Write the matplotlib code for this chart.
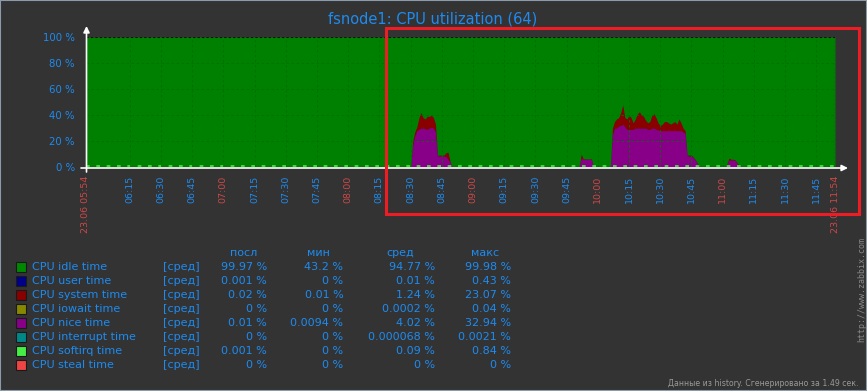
import numpy as np
import matplotlib
matplotlib.use("Agg")
from matplotlib import pyplot as plt
from matplotlib.patches import Rectangle

# sample times, minutes after 23.06 05:54
minutes = ([0] + list(range(156, 177)) + list(range(237, 245))
           + list(range(252, 296)) + list(range(307, 316)) + [360])

# CPU nice time, %
nice = ([0]
        + [0, 17, 24, 28, 29, 30, 30, 29.5, 29, 30, 30.5, 30, 27, 8.5, 8.5, 8.5, 8.5, 8, 6, 4, 0]
        + [0, 7, 6, 6, 6, 6, 6, 0]
        + [0, 25, 30, 30, 31.5, 32, 33, 31, 29, 29, 29, 29, 30, 30, 30, 30, 30, 30, 29, 29,
           30, 30, 29, 28.5, 28, 28, 28, 28, 28, 28, 28, 28, 28, 28, 28, 27, 26, 8.7, 8.5, 8.5,
           7, 5, 2.5, 0]
        + [0, 2, 5.5, 5.5, 5.5, 5, 3, 1, 0]
        + [0])

# CPU system time, %
system = ([0]
          + [0, 3, 3, 3, 9, 12, 8, 7.5, 10, 9, 9.5, 8, 6, 0.5, 0.7, 0.7, 0.7, 3, 5.5, 0.5, 0]
          + [0, 3, 0.4, 0.3, 0.3, 0.3, 0.3, 0]
          + [0, 5, 5, 7, 6.5, 10, 15, 7, 8, 11, 9, 5, 7, 11, 12.5, 10, 9, 6, 5, 6,
             10, 11, 9, 5.5, 4, 5, 7, 7, 6, 5, 6, 7, 5, 9, 6, 3, 2, 0.5, 0.8, 0.7,
             0.5, 0.5, 0.3, 0]
          + [0, 0.3, 1.3, 0.5, 0.5, 0.5, 0.3, 0.1, 0]
          + [0])

tick_minutes = [0] + list(range(21, 352, 15)) + [360]
tick_labels = (["23.06 05:54"]
               + ["06:15", "06:30", "06:45", "07:00", "07:15", "07:30", "07:45", "08:00",
                  "08:15", "08:30", "08:45", "09:00", "09:15", "09:30", "09:45", "10:00",
                  "10:15", "10:30", "10:45", "11:00", "11:15", "11:30", "11:45"]
               + ["23.06 11:54"])

y_ticks = [0, 20, 40, 60, 80, 100]
y_labels = ["0 %", "20 %", "40 %", "60 %", "80 %", "100 %"]

item_names = ["CPU idle time", "CPU user time", "CPU system time", "CPU iowait time",
              "CPU nice time", "CPU interrupt time", "CPU softirq time", "CPU steal time"]
item_colors = ["#008800", "#000088", "#880000", "#888800",
               "#880088", "#008888", "#44ee44", "#ee4444"]
last_vals = ["99.97 %", "0.001 %", "0.02 %", "0 %", "0.01 %", "0 %", "0.001 %", "0 %"]
min_vals = ["43.2 %", "0 %", "0.01 %", "0 %", "0.0094 %", "0 %", "0 %", "0 %"]
avg_vals = ["94.77 %", "0.01 %", "1.24 %", "0.0002 %", "4.02 %", "0.000068 %", "0.09 %", "0 %"]
max_vals = ["99.98 %", "0.43 %", "23.07 %", "0.04 %", "32.94 %", "0.0021 %", "0.84 %", "0 %"]

BG = "#333333"
BLUE = "#1e8bf0"
RED = "#cc4848"
W, H = 867, 391


def fx(x):
    return x / W


def fy(y):
    return 1 - y / H


fig = plt.figure(figsize=(W / 100, H / 100), dpi=100, facecolor=BG)
ax = fig.add_axes([fx(86), fy(167), (835 - 86) / W, (167 - 37) / H])
ax.set_facecolor(BG)

t = np.array(minutes, dtype=float)
n = np.array(nice)
s = np.array(system)
ax.fill_between(t, 0, n, color="#880088", lw=0)
ax.fill_between(t, n, n + s, color="#880000", lw=0)
ax.fill_between(t, n + s, 100, color="#008000", lw=0)

# softirq / nice baseline
ax.plot([0, 360], [0.3, 0.3], color="#880088", lw=0.9, solid_capstyle="butt")
ax.plot([0, 360], [0.6, 0.6], color="#44ee44", lw=1.2, ls=(0, (2.2, 4)))

# grid
for y in y_ticks[1:-1]:
    ax.axhline(y, color="#007000", lw=0.6, ls=(0, (3, 3)))
for m in tick_minutes[1:-1]:
    ax.axvline(m, color="#007000", lw=0.6, ls=(0, (3, 3)))
ax.axhline(100, color="#111111", lw=0.8, ls=(0, (2, 2)))
ax.axvline(360, color="#111111", lw=0.8, ls=(0, (2, 2)))

ax.set_xlim(0, 360)
ax.set_ylim(0, 100)
for sp in ax.spines.values():
    sp.set_visible(False)

ax.set_yticks(y_ticks, y_labels)
ax.tick_params(axis="y", length=0, pad=8, labelsize=7.3, labelcolor=BLUE)
ax.set_xticks(tick_minutes, tick_labels, rotation=90)
ax.tick_params(axis="x", length=0, pad=6, labelsize=6.8)
for lab in ax.get_xticklabels():
    txt = lab.get_text()
    lab.set_color(RED if (txt.endswith(":00") or txt.startswith("23.06")) else BLUE)

# axis lines with arrows
ax.annotate("", xy=(848, H - 168), xycoords="figure pixels",
            xytext=(81, H - 168), textcoords="figure pixels",
            arrowprops=dict(arrowstyle="-|>", color="white", lw=1.2,
                            mutation_scale=9, shrinkA=0, shrinkB=0),
            annotation_clip=False)
ax.annotate("", xy=(86.5, H - 26), xycoords="figure pixels",
            xytext=(86.5, H - 172), textcoords="figure pixels",
            arrowprops=dict(arrowstyle="-|>", color="white", lw=1.2,
                            mutation_scale=9, shrinkA=0, shrinkB=0),
            annotation_clip=False)

fig.text(fx(433), fy(19), "fsnode1: CPU utilization (64)", color=BLUE,
         fontsize=10.5, ha="center", va="center")

# legend table
fig.text(fx(244), fy(253), "посл", color=BLUE, fontsize=8, ha="center", va="center")
fig.text(fx(318), fy(253), "мин", color=BLUE, fontsize=8, ha="center", va="center")
fig.text(fx(400), fy(253), "сред", color=BLUE, fontsize=8, ha="center", va="center")
fig.text(fx(485), fy(253), "макс", color=BLUE, fontsize=8, ha="center", va="center")
for i, name in enumerate(item_names):
    y = 266.7 + i * 14.04
    fig.patches.append(Rectangle((fx(16), fy(y + 5)), 10 / W, 10 / H,
                                 facecolor=item_colors[i], edgecolor="#1a1a1a",
                                 lw=0.8, transform=fig.transFigure))
    fig.text(fx(32), fy(y), name, color=BLUE, fontsize=8, va="center")
    fig.text(fx(163), fy(y), "[сред]", color=BLUE, fontsize=8, va="center")
    fig.text(fx(267), fy(y), last_vals[i], color=BLUE, fontsize=8, ha="right", va="center")
    fig.text(fx(343.5), fy(y), min_vals[i], color=BLUE, fontsize=8, ha="right", va="center")
    fig.text(fx(435), fy(y), avg_vals[i], color=BLUE, fontsize=8, ha="right", va="center")
    fig.text(fx(511), fy(y), max_vals[i], color=BLUE, fontsize=8, ha="right", va="center")

fig.text(fx(859), fy(384), "Данные из history. Сгенерировано за 1.49 сек.",
         color="#9a9a9a", fontsize=5.6, ha="right", va="center")
fig.text(fx(861.5), fy(289), "http://www.zabbix.com", color="#8a8a8a",
         fontsize=6, family="DejaVu Sans Mono", rotation=90, ha="center", va="center")

# frame and red highlight box
fig.patches.append(Rectangle((0, 0), 1, 1, fill=False, edgecolor="#8c9bab",
                             lw=1.5, transform=fig.transFigure))
fig.patches.append(Rectangle((fx(385.5), fy(214.5)), (858.5 - 385.5) / W, (214.5 - 28.5) / H,
                             fill=False, edgecolor="#ee1c24", lw=2.2,
                             transform=fig.transFigure))

fig.savefig("out.png", dpi=100, facecolor=BG)
